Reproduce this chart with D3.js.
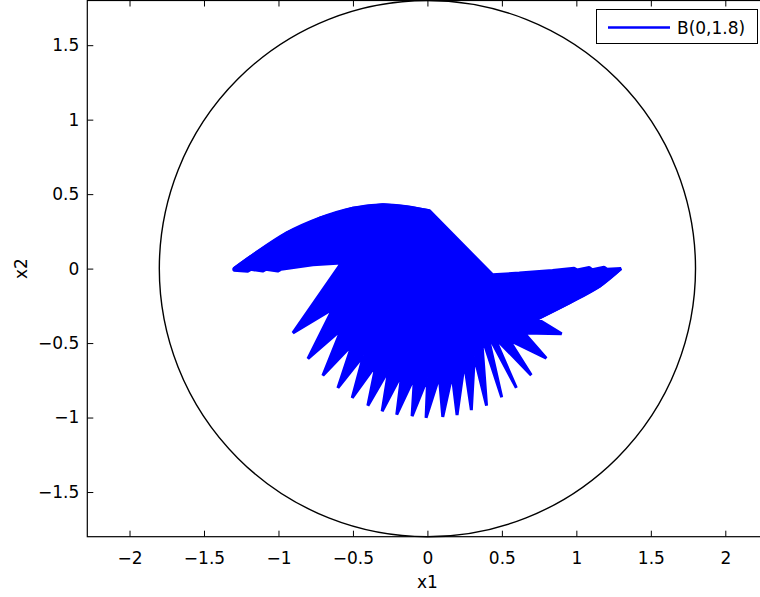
<!DOCTYPE html>
<html>
<head>
<meta charset="utf-8">
<script src="https://cdn.jsdelivr.net/npm/d3@7"></script>
<style>
  body { margin: 0; background: #fff; }
  svg text { font-family: "DejaVu Sans", "Liberation Sans", Arial, sans-serif; }
</style>
</head>
<body>
<div id="chart"></div>
<script>
// tick labels
const xTicks = [-2, -1.5, -1, -0.5, 0, 0.5, 1, 1.5, 2];
const yTicks = [-1.5, -1, -0.5, 0, 0.5, 1, 1.5];

// ball radius
const ballRadius = 1.8;
const legendLabel = 'B(0,1.8)';

// outline of the blue trajectory bundle
const upperArc = [[-1.30, 0.0], [-1.171, 0.092], [-0.947, 0.238], [-0.724, 0.338],
  [-0.501, 0.405], [-0.300, 0.428], [-0.143, 0.416], [0.013, 0.389]];
const rightWingTop = [[0.438, -0.042], [0.617, -0.030], [0.840, -0.013], [0.985, 0.003],
  [1.005, -0.010], [1.086, 0.007], [1.106, -0.008], [1.186, 0.009], [1.206, -0.005]];
const rightWingBottom = [[1.30, 0.0], [1.153, -0.120], [0.952, -0.231], [0.739, -0.338]];
const fingerTips = [[0.901, -0.438], [0.798, -0.601], [0.697, -0.715], [0.597, -0.801],
  [0.499, -0.864], [0.397, -0.920], [0.295, -0.950], [0.199, -0.983], [0.103, -0.995],
  [-0.009, -1.002], [-0.103, -0.991], [-0.206, -0.980], [-0.304, -0.958], [-0.400, -0.920],
  [-0.505, -0.868], [-0.601, -0.801], [-0.702, -0.718], [-0.802, -0.605], [-0.903, -0.432]];
const fingerNotches = [[0.650, -0.432], [0.550, -0.481], [0.449, -0.460], [0.402, -0.434],
  [0.362, -0.444], [0.315, -0.589], [0.248, -0.633], [0.166, -0.712], [0.080, -0.723],
  [0.002, -0.730], [-0.087, -0.727], [-0.172, -0.707], [-0.259, -0.678], [-0.344, -0.645],
  [-0.429, -0.584], [-0.505, -0.511], [-0.578, -0.410], [-0.635, -0.271]];
const leftWing = [[-0.578, 0.037], [-0.769, 0.025], [-0.970, -0.003], [-0.985, -0.005],
  [-1.005, -0.017], [-1.086, -0.005], [-1.106, -0.017], [-1.186, -0.005], [-1.206, -0.017],
  [-1.30, -0.011]];

const width = 760;
const height = 597;
const margin = { left: 87.3, top: 0.5, bottom: 60.3 };
const pxPerUnit = (height - margin.top - margin.bottom) / 3.6;
const xHalf = 2.2835;
const blue = '#0000ff';
const fontSize = 17;

const x = d3.scaleLinear()
  .domain([-xHalf, xHalf])
  .range([margin.left, margin.left + 2 * xHalf * pxPerUnit]);
const y = d3.scaleLinear()
  .domain([-ballRadius, ballRadius])
  .range([height - margin.bottom, margin.top]);

const svg = d3.select('#chart').append('svg')
  .attr('width', width)
  .attr('height', height);

// stitch the outline: tips and notches alternate along the lower fringe
const fringe = [];
fingerTips.forEach((tip, ii) => {
  fringe.push(tip);
  if (ii < fingerNotches.length) fringe.push(fingerNotches[ii]);
});
const outline = upperArc.concat(rightWingTop, rightWingBottom, fringe, leftWing);

const polyLine = d3.line()
  .x(d => x(d[0]))
  .y(d => y(d[1]))
  .curve(d3.curveLinearClosed);
const smoothLine = d3.line()
  .x(d => x(d[0]))
  .y(d => y(d[1]))
  .curve(d3.curveCatmullRom);

const shape = svg.append('g')
  .attr('fill', blue)
  .attr('stroke', blue)
  .attr('stroke-width', 3)
  .attr('stroke-linejoin', 'bevel');

shape.append('path').attr('d', polyLine(outline));
// the curved edges sit outside the polygon chords, fill them smoothly
shape.append('path').attr('d', smoothLine(upperArc) + 'Z');
shape.append('path').attr('d', smoothLine(rightWingBottom) + 'Z');

svg.append('circle')
  .attr('cx', x(0))
  .attr('cy', y(0))
  .attr('r', x(ballRadius) - x(0))
  .attr('fill', 'none')
  .attr('stroke', '#000')
  .attr('stroke-width', 1.4);

// axes, MATLAB style: ticks inside the box
const fmt = d3.format('~g');
const axisB = svg.append('g')
  .attr('transform', `translate(0,${y(-ballRadius)})`)
  .call(d3.axisBottom(x).tickValues(xTicks).tickFormat(fmt).tickSize(-6).tickSizeOuter(0).tickPadding(15));
const axisT = svg.append('g')
  .attr('transform', `translate(0,${y(ballRadius)})`)
  .call(d3.axisTop(x).tickValues(xTicks).tickFormat('').tickSize(-6).tickSizeOuter(0));
const axisL = svg.append('g')
  .attr('transform', `translate(${x(-xHalf)},0)`)
  .call(d3.axisLeft(y).tickValues(yTicks).tickFormat(fmt).tickSize(-6).tickSizeOuter(0).tickPadding(8));

[axisB, axisT, axisL].forEach(g => {
  g.selectAll('.domain').remove();
  g.selectAll('line').attr('stroke', '#000').attr('stroke-width', 1);
  g.selectAll('text').attr('font-size', fontSize).attr('fill', '#000')
    .attr('font-family', '"DejaVu Sans", "Liberation Sans", Arial, sans-serif');
});

svg.append('rect')
  .attr('x', x(-xHalf))
  .attr('y', y(ballRadius))
  .attr('width', x(xHalf) - x(-xHalf))
  .attr('height', y(-ballRadius) - y(ballRadius))
  .attr('fill', 'none')
  .attr('stroke', '#000')
  .attr('stroke-width', 1.2);

svg.append('text')
  .attr('x', x(0))
  .attr('y', 588)
  .attr('text-anchor', 'middle')
  .attr('font-size', fontSize)
  .text('x1');

svg.append('text')
  .attr('transform', `translate(27,${y(0)}) rotate(-90)`)
  .attr('text-anchor', 'middle')
  .attr('font-size', fontSize)
  .text('x2');

// legend
const legend = svg.append('g');
legend.append('rect')
  .attr('x', 596.5)
  .attr('y', 9.5)
  .attr('width', 161)
  .attr('height', 34)
  .attr('fill', '#fff')
  .attr('stroke', '#000')
  .attr('stroke-width', 1);
legend.append('line')
  .attr('x1', 608).attr('x2', 670)
  .attr('y1', 27.5).attr('y2', 27.5)
  .attr('stroke', blue)
  .attr('stroke-width', 2.5);
legend.append('text')
  .attr('x', 677)
  .attr('y', 34)
  .attr('font-size', fontSize)
  .text(legendLabel);
</script>
</body>
</html>
